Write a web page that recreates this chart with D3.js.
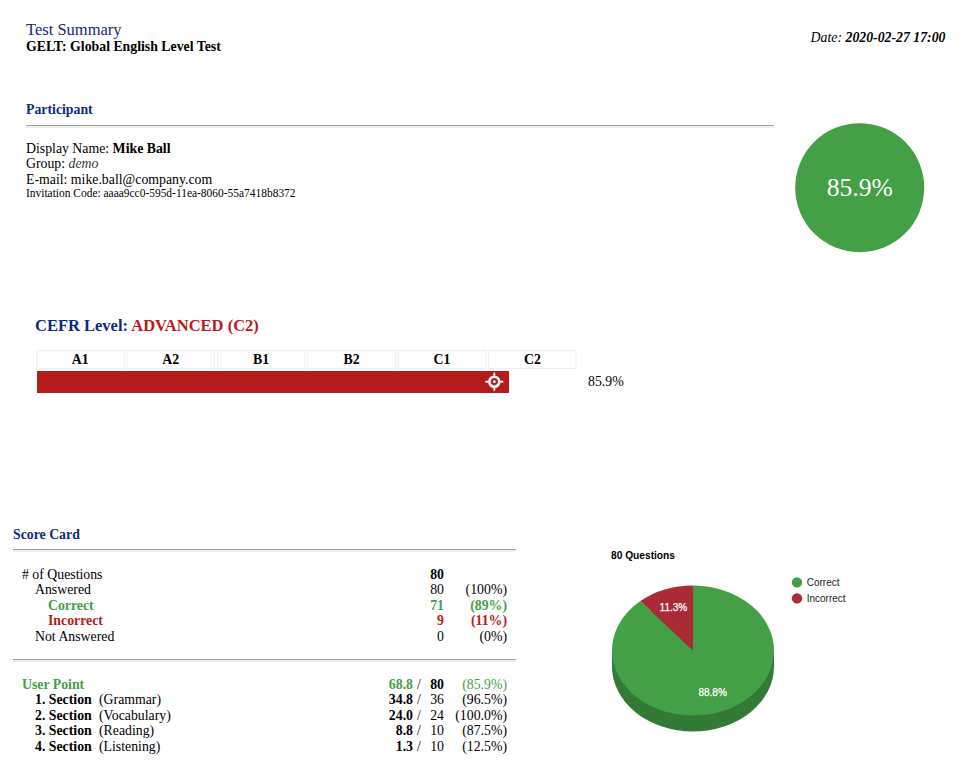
<!DOCTYPE html>
<html>
<head>
<meta charset="utf-8">
<script src="https://cdn.jsdelivr.net/npm/d3@7"></script>
<style>
	html, body { margin: 0; padding: 0; background: #fff; }
	svg { display: block; }
	text { font-family: "Liberation Serif", serif; font-size: 13.8px; fill: #000; }
	.sans { font-family: "Liberation Sans", sans-serif; font-size: 10px; }
</style>
</head>
<body>
<div id="report"></div>
<script>
// Data
var levels = ['A1', 'A2', 'B1', 'B2', 'C1', 'C2'];
var overallScore = 85.9;

var questionLabels = ['# of Questions', 'Answered', 'Correct', 'Incorrect', 'Not Answered'];
var questionCounts = [80, 80, 71, 9, 0];
var questionPercents = ['', '(100%)', '(89%)', '(11%)', '(0%)'];

var sectionNumbers = ['User Point', '1. Section', '2. Section', '3. Section', '4. Section'];
var sectionNames = ['', '(Grammar)', '(Vocabulary)', '(Reading)', '(Listening)'];
var sectionPoints = ['68.8', '34.8', '24.0', '8.8', '1.3'];
var sectionMax = [80, 36, 24, 10, 10];
var sectionPercents = ['(85.9%)', '(96.5%)', '(100.0%)', '(87.5%)', '(12.5%)'];

var pieNames = ['Correct', 'Incorrect'];
var pieValues = [71, 9];
var pieLabels = ['88.8%', '11.3%'];

var GREEN = '#43a047', DARK_GREEN = '#327a36', RED = '#b71c1c', PIE_RED = '#aa2a36', NAVY = '#0d2a7e';

var svg = d3.select('#report')
	.append('svg')
	.attr('width', 966)
	.attr('height', 776);

// Adds one line of text made of runs, each run is [string, style]
function addText(x, y, runs, anchor, size) {
	var t = svg.append('text')
		.attr('x', x)
		.attr('y', y)
		.attr('text-anchor', anchor || 'start')
		.style('font-size', (size || 13.8) + 'px');
	runs.forEach(function(r) {
		var s = t.append('tspan').text(r[0]);
		var st = r[1] || {};
		if (st.bold) s.style('font-weight', 'bold');
		if (st.italic) s.style('font-style', 'italic');
		if (st.color) s.style('fill', st.color);
	});
	return t;
}

function addRule(x1, x2, y) {
	svg.append('rect').attr('x', x1).attr('y', y).attr('width', x2 - x1).attr('height', 1).attr('fill', '#9e9e9e');
	svg.append('rect').attr('x', x1).attr('y', y + 1).attr('width', x2 - x1).attr('height', 2).attr('fill', '#eee');
}

// Header
addText(26, 35, [['Test Summary', {color: '#1a237e'}]], 'start', 16.5);
addText(26, 51, [['GELT: Global English Level Test', {bold: true}]]);
addText(945.5, 42, [['Date: ', {italic: true}], ['2020-02-27 17:00', {italic: true, bold: true}]], 'end');

// Participant
addText(26, 114, [['Participant', {bold: true, color: NAVY}]]);
addRule(26, 774, 125);
addText(26, 153, [['Display Name: '], ['Mike Ball', {bold: true}]]);
addText(26, 168, [['Group: '], ['demo', {italic: true, color: '#333'}]]);
addText(26, 184, [['E-mail: mike.ball@company.com']]);
addText(26, 197, [['Invitation Code: aaaa9cc0-595d-11ea-8060-55a7418b8372']], 'start', 11.45);

// Score circle
svg.append('circle').attr('cx', 859.7).attr('cy', 187.7).attr('r', 64.5).attr('fill', GREEN);
addText(859.7, 196, [[overallScore + '%', {color: '#fff'}]], 'middle', 25.6);

// CEFR level
addText(35, 331, [['CEFR Level: ', {bold: true, color: NAVY}], ['ADVANCED (C2)', {bold: true, color: RED}]], 'start', 16.5);

var levelScale = d3.scaleBand()
	.domain(levels)
	.range([36, 576.6])
	.paddingInner(0.022);

var scoreScale = d3.scaleLinear()
	.domain([0, 100])
	.range([37, 586.5]);

svg.selectAll('.level-cell')
	.data(levels)
	.enter()
	.append('rect')
	.attr('class', 'level-cell')
	.attr('x', function(d) { return levelScale(d) + 0.5; })
	.attr('y', 350.5)
	.attr('width', levelScale.bandwidth() - 1)
	.attr('height', 18)
	.attr('fill', '#fff')
	.attr('stroke', '#eee');

svg.selectAll('.level-label')
	.data(levels)
	.enter()
	.append('text')
	.attr('class', 'level-label')
	.attr('x', function(d) { return levelScale(d) + levelScale.bandwidth() / 2; })
	.attr('y', 364)
	.attr('text-anchor', 'middle')
	.style('font-weight', 'bold')
	.text(function(d) { return d; });

svg.append('rect')
	.attr('x', scoreScale(0))
	.attr('y', 371)
	.attr('width', scoreScale(overallScore) - scoreScale(0))
	.attr('height', 22)
	.attr('fill', RED);

// Target icon at the end of the bar
var target = svg.append('g')
	.attr('transform', 'translate(' + (scoreScale(overallScore) - 14.7) + ',381.7)');
target.append('circle').attr('r', 5).attr('fill', 'none').attr('stroke', '#fff').attr('stroke-width', 2.6);
target.append('circle').attr('r', 1.4).attr('fill', '#fff');
[[0, -9, 0, -6], [0, 6, 0, 9], [-9, 0, -6, 0], [6, 0, 9, 0]].forEach(function(l) {
	target.append('line')
		.attr('x1', l[0]).attr('y1', l[1]).attr('x2', l[2]).attr('y2', l[3])
		.attr('stroke', '#fff').attr('stroke-width', 1.8);
});

addText(588, 386, [[overallScore + '%']]);

// Score card
addText(13, 539, [['Score Card', {bold: true, color: NAVY}]]);
addRule(13, 516, 549);
addRule(13, 516, 659);

var rowGap = 15.5;
var questionIndent = [22, 35, 48, 48, 35];
var questionStyles = [{}, {}, {bold: true, color: GREEN}, {bold: true, color: RED}, {}];

questionLabels.forEach(function(label, i) {
	var y = Math.floor(579 + i * rowGap);
	var st = questionStyles[i];
	addText(questionIndent[i], y, [[label, st]]);
	addText(444, y, [[String(questionCounts[i]), i === 0 ? {bold: true} : st]], 'end');
	addText(507, y, [[questionPercents[i], st]], 'end');
});

sectionNumbers.forEach(function(label, i) {
	var y = Math.floor(689 + i * rowGap);
	var first = i === 0;
	addText(first ? 22 : 35, y, [[label, {bold: true, color: first ? GREEN : null}]]);
	if (!first) addText(99, y, [[sectionNames[i]]]);
	addText(413, y, [[sectionPoints[i], {bold: true, color: first ? GREEN : null}]], 'end');
	addText(419, y, [['/']], 'middle');
	addText(444, y, [[String(sectionMax[i]), first ? {bold: true} : {}]], 'end');
	addText(507, y, [[sectionPercents[i], first ? {color: GREEN} : {}]], 'end');
});

// 3D style pie
var pieX = 693, pieY = 650.5, pieRx = 81, pieRy = 65, pieDepth = 16;
var pieColor = d3.scaleOrdinal().domain(pieNames).range([GREEN, PIE_RED]);

var pie = d3.pie().sort(null);
var arc = d3.arc().innerRadius(0).outerRadius(pieRx);
var labelArc = d3.arc().innerRadius(pieRx * 0.7).outerRadius(pieRx * 0.7);
var arcs = pie(pieValues);

svg.append('text')
	.attr('class', 'sans')
	.attr('x', 611)
	.attr('y', 559)
	.style('font-weight', 'bold')
	.style('font-size', '10.2px')
	.text(questionCounts[0] + ' Questions');

// Side wall first, the top goes over it
var side = svg.append('g');
side.append('ellipse')
	.attr('cx', pieX).attr('cy', pieY + pieDepth)
	.attr('rx', pieRx).attr('ry', pieRy)
	.attr('fill', DARK_GREEN);
side.append('rect')
	.attr('x', pieX - pieRx).attr('y', pieY)
	.attr('width', pieRx * 2).attr('height', pieDepth)
	.attr('fill', DARK_GREEN);

svg.append('g')
	.attr('transform', 'translate(' + pieX + ',' + pieY + ') scale(1,' + (pieRy / pieRx) + ')')
	.selectAll('path')
	.data(arcs)
	.enter()
	.append('path')
	.attr('d', arc)
	.attr('fill', function(d, i) { return pieColor(pieNames[i]); });

svg.selectAll('.pie-label')
	.data(arcs)
	.enter()
	.append('text')
	.attr('class', 'sans pie-label')
	.attr('x', function(d) { return pieX + labelArc.centroid(d)[0]; })
	.attr('y', function(d) { return pieY + labelArc.centroid(d)[1] * pieRy / pieRx + 3; })
	.attr('text-anchor', 'middle')
	.style('fill', '#fff')
	.style('stroke', '#fff')
	.style('stroke-width', 0.25)
	.text(function(d, i) { return pieLabels[i]; });

// Legend
var legend = svg.selectAll('.legend')
	.data(pieNames)
	.enter()
	.append('g')
	.attr('class', 'legend')
	.attr('transform', function(d, i) { return 'translate(797,' + (582.4 + i * 16) + ')'; });

legend.append('circle')
	.attr('r', 5.2)
	.attr('fill', function(d) { return pieColor(d); });

legend.append('text')
	.attr('class', 'sans')
	.attr('x', 9.7)
	.attr('y', 3.5)
	.style('fill', '#222')
	.text(function(d) { return d; });
</script>
</body>
</html>
